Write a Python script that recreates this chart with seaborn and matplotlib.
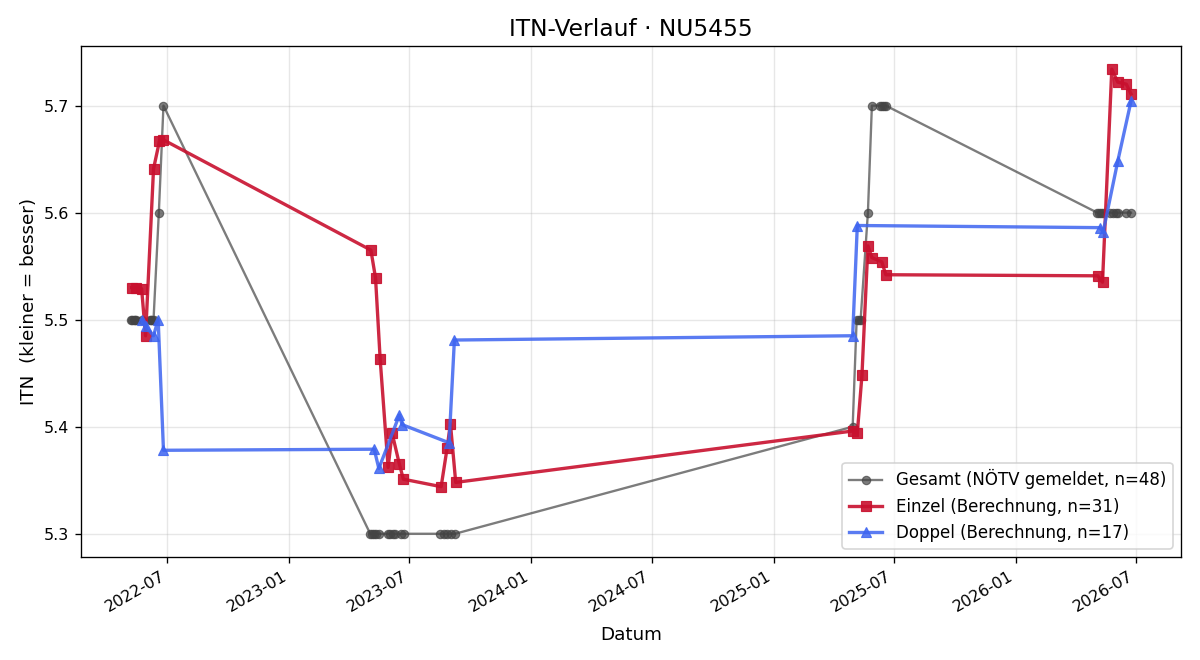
import matplotlib
matplotlib.use("Agg")
import matplotlib.pyplot as plt
import matplotlib.dates as mdates
import seaborn as sns
import pandas as pd

# --- Data ---------------------------------------------------------------
gesamt_dates = [
    "2022-05-07", "2022-05-09", "2022-05-11", "2022-05-13", "2022-05-15", "2022-05-23",
    "2022-06-04", "2022-06-06", "2022-06-08", "2022-06-10", "2022-06-18", "2022-06-25",
    "2023-05-03", "2023-05-06", "2023-05-09", "2023-05-12", "2023-05-16", "2023-05-30",
    "2023-06-02", "2023-06-06", "2023-06-10", "2023-06-19", "2023-06-23", "2023-08-17",
    "2023-08-22", "2023-08-27", "2023-09-02", "2023-09-08",
    "2025-04-30", "2025-05-06", "2025-05-09", "2025-05-12", "2025-05-23", "2025-05-29",
    "2025-06-10", "2025-06-13", "2025-06-16", "2025-06-19",
    "2026-05-04", "2026-05-06", "2026-05-09", "2026-05-12", "2026-05-24", "2026-05-28",
    "2026-06-01", "2026-06-04", "2026-06-17", "2026-06-24",
]
gesamt_itn = [
    5.5, 5.5, 5.5, 5.5, 5.5, 5.5,
    5.5, 5.5, 5.5, 5.5, 5.6, 5.7,
    5.3, 5.3, 5.3, 5.3, 5.3, 5.3,
    5.3, 5.3, 5.3, 5.3, 5.3, 5.3,
    5.3, 5.3, 5.3, 5.3,
    5.4, 5.5, 5.5, 5.5, 5.6, 5.7,
    5.7, 5.7, 5.7, 5.7,
    5.6, 5.6, 5.6, 5.6, 5.6, 5.6,
    5.6, 5.6, 5.6, 5.6,
]

einzel_dates = [
    "2022-05-08", "2022-05-15", "2022-05-23", "2022-05-29", "2022-06-10", "2022-06-19", "2022-06-25",
    "2023-05-04", "2023-05-11", "2023-05-18", "2023-05-30", "2023-06-05", "2023-06-16",
    "2023-06-22", "2023-08-18", "2023-08-27", "2023-09-01", "2023-09-09",
    "2025-04-30", "2025-05-07", "2025-05-14", "2025-05-23", "2025-05-29", "2025-06-13", "2025-06-19",
    "2026-05-05", "2026-05-12", "2026-05-26", "2026-06-04", "2026-06-17", "2026-06-24",
]
einzel_itn = [
    5.530, 5.530, 5.529, 5.485, 5.641, 5.667, 5.668,
    5.565, 5.539, 5.463, 5.362, 5.394, 5.365,
    5.351, 5.344, 5.380, 5.403, 5.348,
    5.396, 5.394, 5.448, 5.569, 5.558, 5.554, 5.542,
    5.541, 5.535, 5.734, 5.722, 5.720, 5.711,
]

doppel_dates = [
    "2022-05-23", "2022-05-29", "2022-06-10", "2022-06-17", "2022-06-25",
    "2023-05-09", "2023-05-16", "2023-06-16", "2023-06-20", "2023-08-30", "2023-09-07",
    "2025-04-30", "2025-05-07",
    "2026-05-08", "2026-05-13", "2026-06-04", "2026-06-24",
]
doppel_itn = [
    5.500, 5.494, 5.485, 5.500, 5.378,
    5.379, 5.361, 5.411, 5.402, 5.385, 5.481,
    5.485, 5.588,
    5.586, 5.582, 5.648, 5.704,
]

title = "ITN-Verlauf · NU5455"
xlabel = "Datum"
ylabel = "ITN  (kleiner = besser)"

# --- Plot ---------------------------------------------------------------
fig, ax = plt.subplots(figsize=(10, 5.5), dpi=120)

g = pd.DataFrame({"d": pd.to_datetime(gesamt_dates), "v": gesamt_itn})
e = pd.DataFrame({"d": pd.to_datetime(einzel_dates), "v": einzel_itn})
p = pd.DataFrame({"d": pd.to_datetime(doppel_dates), "v": doppel_itn})

sns.lineplot(data=g, x="d", y="v", ax=ax, estimator=None, sort=False,
             color="#444444", alpha=0.7, linewidth=1.4, marker="o",
             markersize=5, markeredgewidth=0.7, markeredgecolor="#444444",
             label=f"Gesamt (NÖTV gemeldet, n={len(gesamt_itn)})")
sns.lineplot(data=e, x="d", y="v", ax=ax, estimator=None, sort=False,
             color="#c8102e", alpha=0.9, linewidth=2.0, marker="s",
             markersize=6, markeredgewidth=0.7, markeredgecolor="#c8102e",
             label=f"Einzel (Berechnung, n={len(einzel_itn)})")
sns.lineplot(data=p, x="d", y="v", ax=ax, estimator=None, sort=False,
             color="#3d64f0", alpha=0.85, linewidth=2.0, marker="^",
             markersize=6.5, markeredgewidth=0.7, markeredgecolor="#3d64f0",
             label=f"Doppel (Berechnung, n={len(doppel_itn)})")

ax.set_title(title, fontsize=14)
ax.set_xlabel(xlabel, fontsize=11, labelpad=7)
ax.set_ylabel(ylabel, fontsize=11, labelpad=3.5)
ax.tick_params(labelsize=9.5)
ax.grid(True, alpha=0.3)
ax.xaxis.set_major_locator(mdates.MonthLocator(bymonth=[1, 7]))
ax.xaxis.set_major_formatter(mdates.DateFormatter("%Y-%m"))
ax.yaxis.set_major_locator(plt.MultipleLocator(0.1))
fig.autofmt_xdate(rotation=30, ha="right")
ax.legend(loc="lower right", fontsize=10)

fig.subplots_adjust(left=81 / 1200, right=1181 / 1200,
                    top=1 - 46 / 660, bottom=1 - 557 / 660)
fig.savefig("out.png", dpi=120)
